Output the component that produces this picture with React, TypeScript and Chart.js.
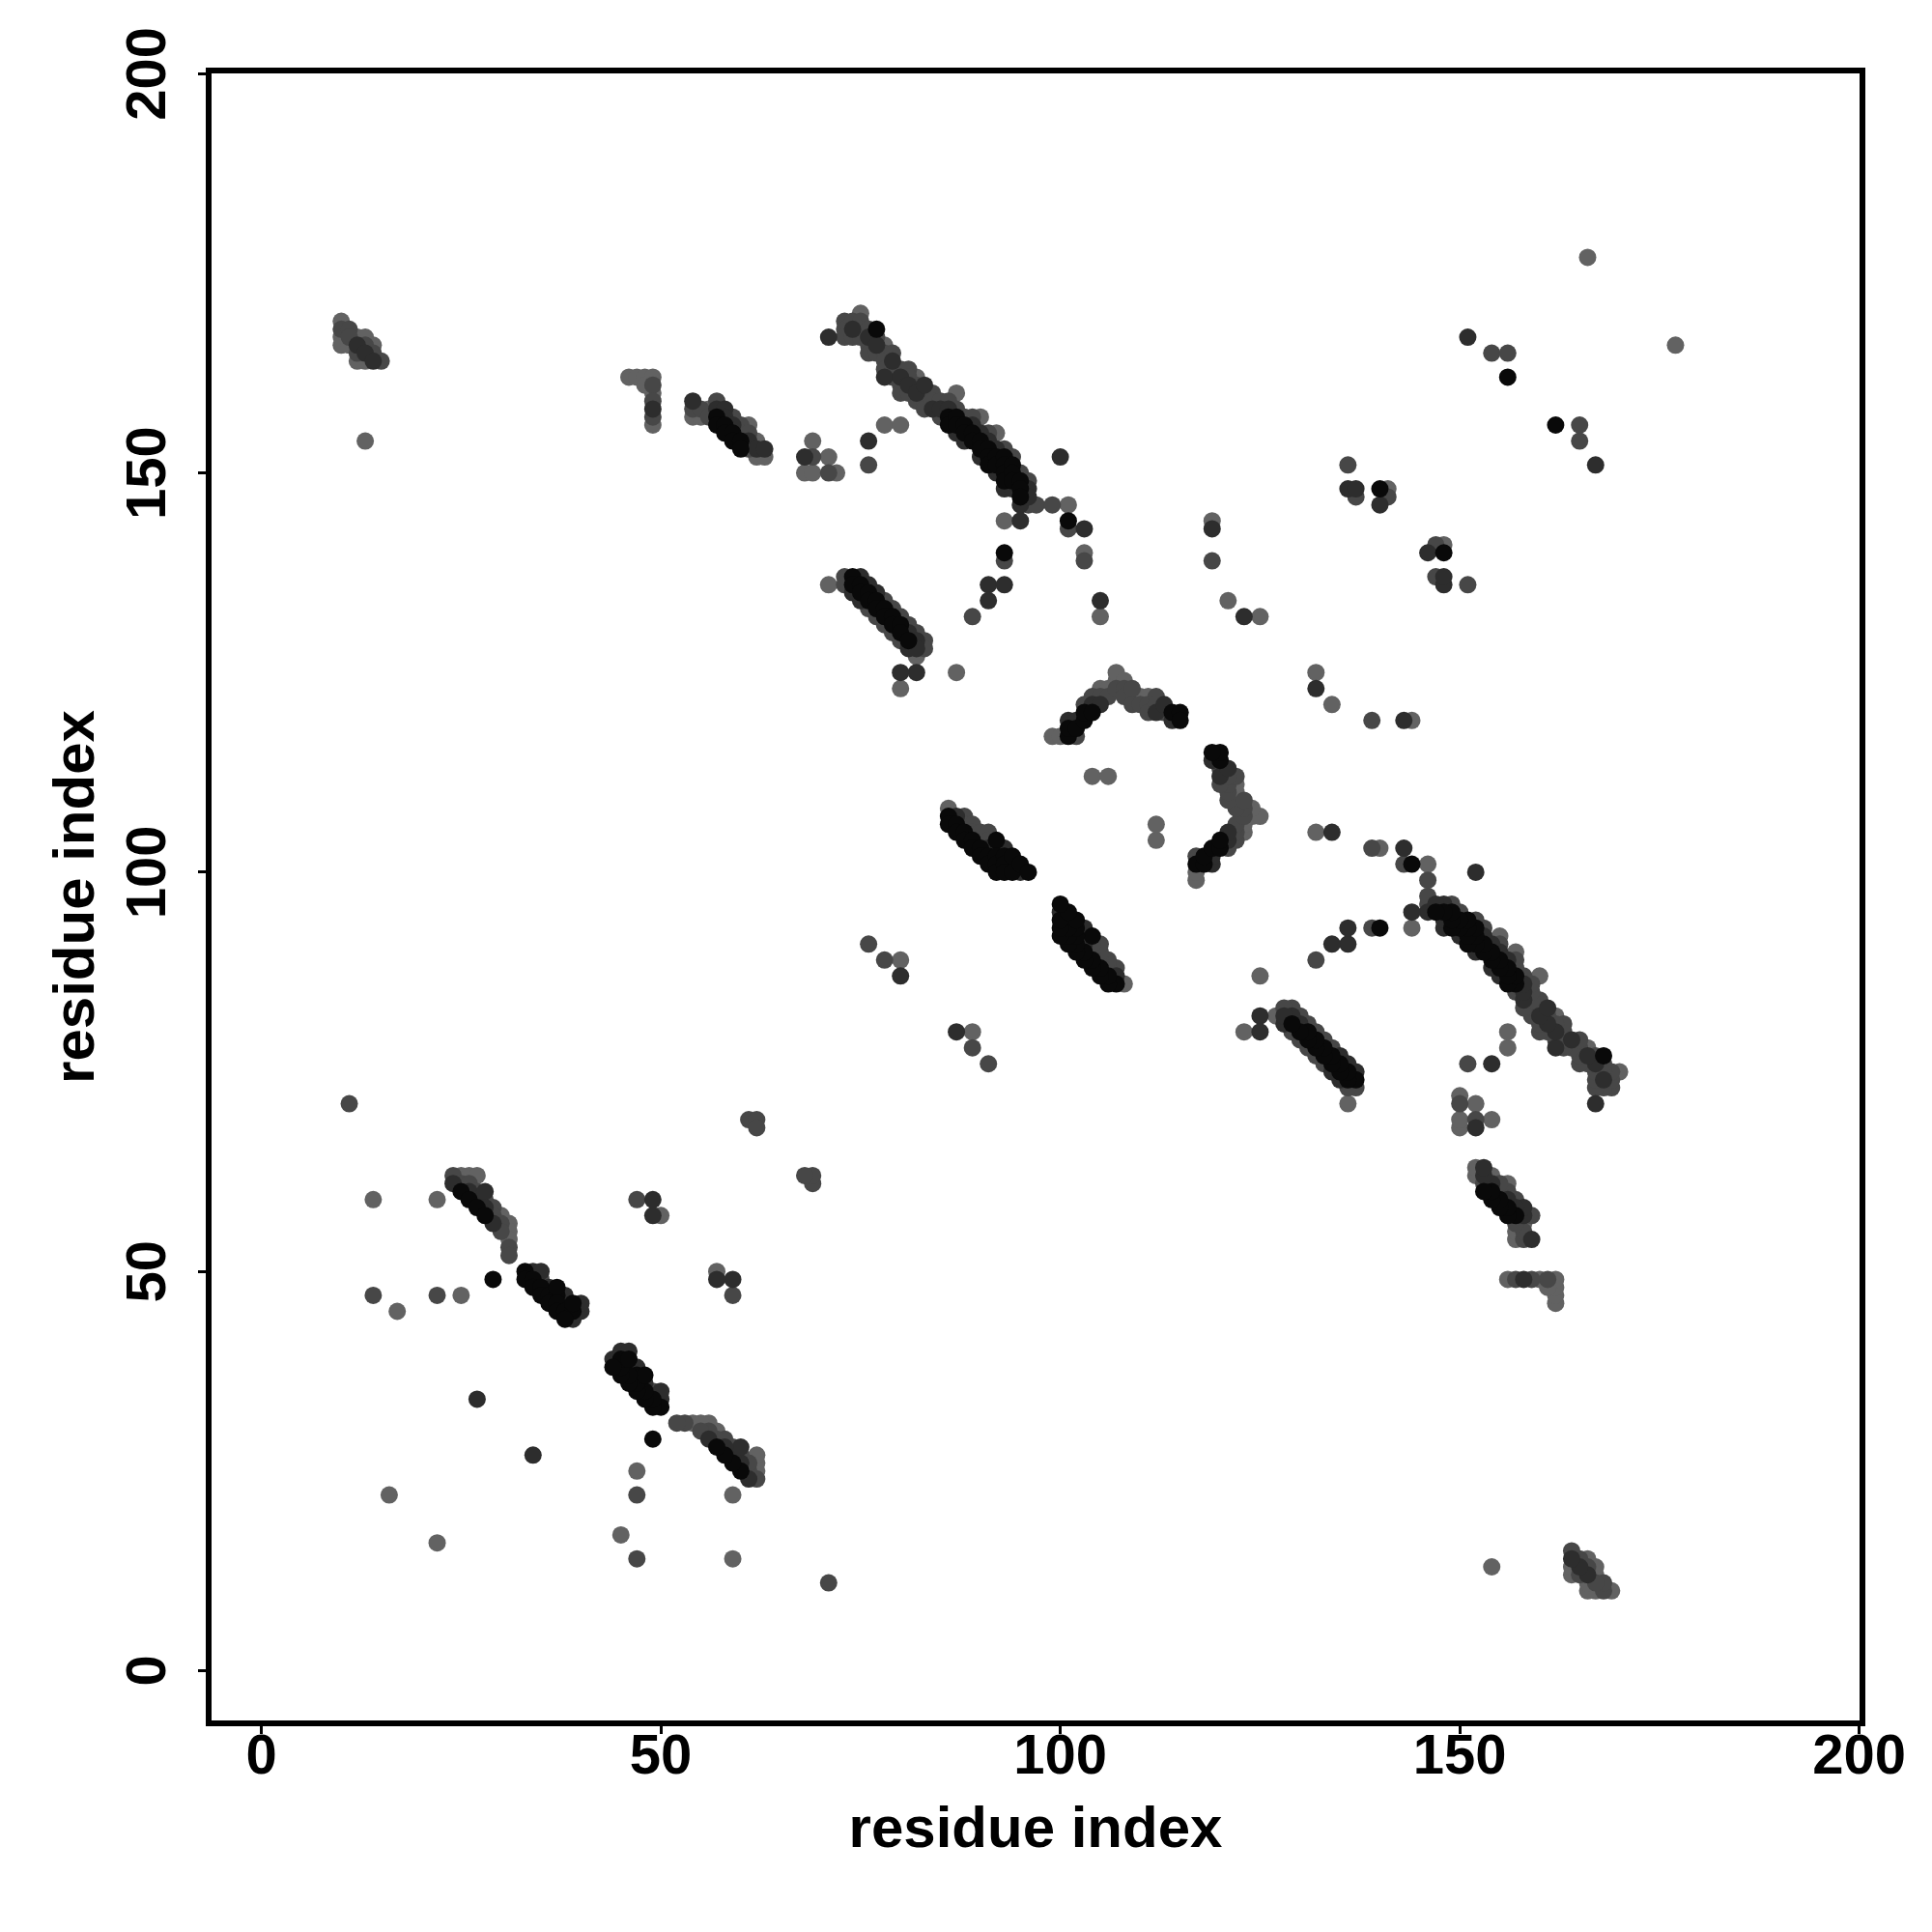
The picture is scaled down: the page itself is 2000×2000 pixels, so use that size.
import React, { useEffect, useRef } from "react";
import { Chart, registerables } from "chart.js";

Chart.register(...registerables);

// [residue i, residue j, contact level (1 = darkest ... 4 = lightest)]
type Contact = [number, number, number];

const axisMin = -6.6;
const axisMax = 200.4;
const tickValues = [0, 50, 100, 150, 200];
const axisTitle = "residue index";
const contactLevels = [1, 2, 3, 4];

const terminalContacts: Contact[] = [
  [10, 169, 4], [10, 168, 3], [10, 167, 4], [10, 166, 4], [11, 168, 3], [11, 167, 3], [11, 166, 4],
  [12, 167, 4], [12, 166, 2], [12, 165, 3], [12, 164, 4], [13, 167, 4], [13, 166, 3], [13, 165, 2],
  [13, 164, 4], [14, 166, 4], [14, 165, 3], [14, 164, 2], [15, 164, 3], [13, 154, 4], [11, 71, 3],
];

const scatteredLow: Contact[] = [
  [14, 59, 4], [22, 59, 4], [14, 47, 3], [22, 47, 3], [25, 47, 4], [17, 45, 4], [16, 22, 4],
  [27, 34, 2], [29, 49, 1], [47, 59, 3], [49, 59, 2], [49, 57, 2], [50, 57, 4],
  [61, 69, 3], [62, 69, 3], [62, 68, 3],
];

const sheetA: Contact[] = [
  [24, 62, 3], [25, 62, 4], [26, 62, 4], [27, 62, 4], [24, 61, 2], [25, 61, 3], [25, 60, 1],
  [26, 61, 3], [26, 60, 2], [26, 59, 1], [27, 60, 3], [27, 59, 2], [27, 58, 1], [28, 60, 2],
  [28, 59, 3], [28, 58, 2], [28, 57, 1], [29, 58, 3], [29, 57, 3], [29, 56, 2], [30, 57, 4],
  [30, 56, 3], [30, 55, 3], [31, 56, 4], [31, 55, 4], [31, 54, 4], [31, 53, 3], [31, 52, 3],
];

const sheetB: Contact[] = [
  [33, 50, 1], [34, 50, 2], [35, 50, 2], [33, 49, 1], [34, 49, 1], [35, 49, 3], [34, 48, 1],
  [35, 48, 1], [36, 48, 2], [35, 47, 1], [36, 47, 1], [37, 47, 1], [37, 48, 1], [36, 46, 1],
  [37, 46, 1], [38, 46, 2], [38, 47, 2], [37, 45, 1], [38, 45, 1], [39, 45, 1], [39, 46, 1],
  [38, 44, 1], [39, 44, 2], [40, 45, 2], [40, 46, 2],
];

const sheetC: Contact[] = [
  [46, 162, 4], [47, 162, 4], [48, 162, 4], [49, 162, 4], [48, 161, 4], [49, 161, 3], [49, 160, 4],
  [49, 159, 3], [49, 158, 2], [49, 157, 3], [49, 156, 4],
  [54, 159, 2], [54, 158, 3], [54, 157, 4], [55, 158, 3], [55, 157, 4], [56, 158, 4], [56, 157, 3],
  [57, 159, 3], [57, 158, 2], [57, 157, 1], [57, 156, 1], [58, 158, 2], [58, 157, 2], [58, 156, 1],
  [58, 155, 1], [59, 157, 3], [59, 156, 2], [59, 155, 1], [59, 154, 1], [60, 156, 3], [60, 155, 3],
  [60, 154, 1], [60, 153, 1], [61, 156, 4], [61, 155, 3], [61, 154, 2], [61, 153, 3], [62, 154, 4],
  [62, 153, 2], [62, 152, 4], [63, 153, 2], [63, 152, 4],
  [69, 154, 4], [68, 152, 2], [69, 152, 3], [71, 152, 4], [68, 150, 4], [69, 150, 4], [71, 150, 3],
  [72, 150, 4], [76, 154, 2], [76, 151, 3], [78, 156, 4], [80, 156, 4],
];

const longBand: Contact[] = [
  [71, 167, 2],
  [73, 169, 3], [73, 168, 3], [73, 167, 3],
  [74, 169, 3], [74, 168, 2], [74, 167, 3],
  [75, 170, 4], [75, 169, 3], [75, 168, 3], [75, 167, 3],
  [76, 168, 3], [76, 167, 2], [76, 166, 3], [76, 165, 3],
  [77, 168, 1], [77, 167, 3], [77, 166, 2], [77, 165, 3],
  [78, 166, 4], [78, 165, 3], [78, 164, 3], [78, 163, 3], [78, 162, 2],
  [79, 165, 3], [79, 164, 2], [79, 163, 3], [79, 162, 3],
  [80, 163, 3], [80, 162, 2], [80, 161, 3], [80, 160, 3],
  [81, 163, 3], [81, 162, 3], [81, 161, 2], [81, 160, 3],
  [82, 162, 4], [82, 161, 3], [82, 160, 2], [82, 159, 3],
  [83, 161, 2], [83, 160, 3], [83, 159, 3], [83, 158, 3],
  [84, 160, 3], [84, 159, 3], [84, 158, 2],
  [85, 159, 3], [85, 158, 2], [85, 157, 3],
  [86, 159, 3], [86, 158, 2], [86, 157, 1], [86, 156, 1],
  [87, 160, 4], [87, 158, 3], [87, 157, 1], [87, 156, 1], [87, 155, 2],
  [88, 157, 3], [88, 156, 1], [88, 155, 1], [88, 154, 2],
  [89, 157, 3], [89, 156, 2], [89, 155, 1], [89, 154, 1],
  [90, 157, 4], [90, 155, 2], [90, 154, 1], [90, 153, 1], [90, 152, 2],
  [91, 155, 3], [91, 154, 2], [91, 153, 1], [91, 152, 1], [91, 151, 1],
  [92, 155, 4], [92, 153, 2], [92, 152, 1], [92, 151, 1], [92, 150, 2],
  [93, 153, 3], [93, 152, 1], [93, 151, 1], [93, 150, 1], [93, 149, 1], [93, 148, 2],
  [94, 152, 3], [94, 151, 1], [94, 150, 1], [94, 149, 1], [94, 148, 2],
  [95, 150, 3], [95, 149, 1], [95, 148, 1], [95, 147, 1], [95, 146, 2],
  [96, 149, 3], [96, 148, 2], [96, 147, 2], [96, 146, 3],
  [97, 146, 3], [99, 146, 3], [101, 146, 4], [100, 152, 2],
];

const scatteredMid: Contact[] = [
  [93, 144, 4], [95, 144, 2], [101, 144, 1], [101, 143, 3], [103, 143, 2], [93, 140, 1],
  [93, 139, 3], [103, 140, 4], [103, 139, 3], [91, 136, 2], [93, 136, 2], [91, 134, 2],
  [89, 132, 3], [105, 134, 2], [105, 132, 4], [76, 91, 3], [78, 89, 3], [80, 89, 4], [80, 87, 2],
  [104, 112, 4], [106, 112, 4],
];

const sheetD: Contact[] = [
  [71, 136, 4],
  [73, 137, 3], [73, 136, 3],
  [74, 137, 1], [74, 136, 1], [74, 135, 2],
  [75, 137, 2], [75, 136, 1], [75, 135, 1], [75, 134, 2],
  [76, 136, 2], [76, 135, 1], [76, 134, 1], [76, 133, 3],
  [77, 135, 2], [77, 134, 1], [77, 133, 1], [77, 132, 3],
  [78, 134, 3], [78, 133, 1], [78, 132, 1], [78, 131, 3],
  [79, 133, 3], [79, 132, 1], [79, 131, 1], [79, 130, 3],
  [80, 132, 3], [80, 131, 1], [80, 130, 1], [80, 129, 3],
  [81, 131, 3], [81, 130, 2], [81, 129, 1], [81, 128, 2],
  [82, 130, 3], [82, 129, 2], [82, 128, 2], [82, 127, 4],
  [83, 129, 3], [83, 128, 3],
  [82, 125, 2], [80, 125, 2], [80, 123, 4], [87, 125, 4],
];

const sheetE: Contact[] = [
  [86, 108, 4], [86, 107, 1], [86, 106, 1], [87, 107, 2], [87, 106, 1], [87, 105, 1],
  [88, 107, 3], [88, 106, 3], [88, 105, 1], [88, 104, 1], [89, 106, 3], [89, 105, 3],
  [89, 104, 1], [89, 103, 1], [90, 105, 3], [90, 104, 3], [90, 103, 1], [90, 102, 1],
  [91, 105, 3], [91, 104, 3], [91, 103, 2], [91, 102, 1], [91, 101, 1], [92, 104, 1],
  [92, 103, 2], [92, 102, 1], [92, 101, 1], [92, 100, 1], [93, 103, 2], [93, 102, 1],
  [93, 101, 1], [93, 100, 1], [94, 102, 1], [94, 101, 3], [94, 100, 1], [95, 101, 1],
  [95, 100, 2], [96, 100, 1],
];

const arcContacts: Contact[] = [
  [99, 117, 4], [100, 117, 4], [101, 117, 1], [102, 117, 3], [101, 118, 1], [102, 118, 1],
  [101, 119, 2], [102, 119, 2], [103, 119, 1], [103, 120, 1], [103, 121, 3], [104, 120, 1],
  [104, 121, 2], [104, 122, 3], [105, 121, 2], [105, 122, 3], [105, 123, 4], [106, 122, 3],
  [106, 123, 4], [107, 123, 3], [107, 124, 4], [107, 125, 4], [108, 123, 3], [108, 124, 4],
  [108, 122, 3], [109, 122, 4], [109, 121, 3], [109, 123, 3], [110, 122, 4], [110, 121, 3],
  [111, 122, 4], [111, 121, 3], [111, 120, 3], [112, 122, 3], [112, 121, 3], [112, 120, 2],
  [113, 121, 2], [113, 120, 3], [114, 120, 1], [114, 119, 2], [115, 120, 1], [115, 119, 1],
];

const scatteredHigh: Contact[] = [
  [119, 144, 4], [119, 143, 2], [119, 139, 3], [121, 134, 4], [123, 132, 2], [125, 132, 4],
  [136, 151, 3], [136, 148, 2], [137, 148, 2], [137, 147, 3], [140, 148, 1], [141, 148, 4],
  [140, 146, 2], [141, 147, 3], [151, 167, 2], [154, 165, 3], [156, 165, 3], [156, 162, 1],
  [166, 177, 4],
];

const allContacts: Contact[] = [
  ...terminalContacts, ...scatteredLow, ...sheetA, ...sheetB, ...sheetC, ...longBand,
  ...scatteredMid, ...sheetD, ...sheetE, ...arcContacts, ...scatteredHigh,
];

const FONT = "'Liberation Sans', Arial, Helvetica, sans-serif";
const LEVEL_COLORS: Record<number, string> = { 1: "#090909", 2: "#2d2d2d", 3: "#474747", 4: "#626262" };

// a contact map is symmetric: each contact (i, j) is drawn at (i, j) and (j, i)
function pointsForLevel(level: number) {
  const pts: { x: number; y: number }[] = [];
  for (const [i, j, l] of allContacts) {
    if (l !== level) continue;
    pts.push({ x: i, y: j });
    pts.push({ x: j, y: i });
  }
  return pts;
}

const framePlugin = {
  id: "frameBox",
  afterDatasetsDraw(chart: any) {
    const { ctx, chartArea } = chart;
    ctx.save();
    ctx.lineWidth = 6;
    ctx.strokeStyle = "#000";
    ctx.strokeRect(chartArea.left, chartArea.top, chartArea.right - chartArea.left, chartArea.bottom - chartArea.top);
    ctx.restore();
  },
};

const yTickLabelPlugin = {
  id: "yTickLabels",
  afterDraw(chart: any) {
    const { ctx, chartArea } = chart;
    const ys = chart.scales.y;
    ctx.save();
    ctx.fillStyle = "#000";
    ctx.font = `bold 58px ${FONT}`;
    ctx.textAlign = "center";
    ctx.textBaseline = "alphabetic";
    for (const v of tickValues) {
      const py = ys.getPixelForValue(v);
      ctx.save();
      ctx.translate(chartArea.left - 45, py);
      ctx.rotate(-Math.PI / 2);
      ctx.fillText(String(v), 0, 0);
      ctx.restore();
    }
    ctx.restore();
  },
};

export default function App() {
  const canvasRef = useRef<HTMLCanvasElement | null>(null);

  useEffect(() => {
    const canvas = canvasRef.current;
    if (!canvas) return;
    const datasets = contactLevels.map((level, idx) => ({
      label: `level ${level}`,
      data: pointsForLevel(level),
      backgroundColor: LEVEL_COLORS[level],
      borderWidth: 0,
      pointRadius: 9,
      pointHoverRadius: 9,
      order: idx,
    }));
    const tickFont = { family: FONT, size: 58, weight: "bold" as const };
    const titleFont = { family: FONT, size: 60, weight: "bold" as const };
    const chart = new Chart(canvas, {
      type: "scatter",
      data: { datasets },
      plugins: [framePlugin, yTickLabelPlugin],
      options: {
        animation: false,
        responsive: false,
        devicePixelRatio: 1,
        events: [],
        layout: { padding: { left: 0, top: 73, right: 72, bottom: 0 } },
        plugins: { legend: { display: false }, tooltip: { enabled: false } },
        scales: {
          x: {
            type: "linear",
            min: axisMin,
            max: axisMax,
            afterBuildTicks: (scale: any) => {
              scale.ticks = tickValues.map((v) => ({ value: v }));
            },
            afterFit: (scale: any) => {
              scale.height = 216;
            },
            ticks: { font: tickFont, color: "#000", padding: -10, maxRotation: 0, autoSkip: false },
            grid: { drawOnChartArea: false, drawTicks: true, tickLength: 11, tickWidth: 3, tickColor: "#000" },
            border: { display: false },
            title: { display: true, text: axisTitle, color: "#000", font: titleFont, padding: { top: 0, bottom: 69 } },
          },
          y: {
            type: "linear",
            min: axisMin,
            max: axisMax,
            afterBuildTicks: (scale: any) => {
              scale.ticks = tickValues.map((v) => ({ value: v }));
            },
            afterFit: (scale: any) => {
              scale.width = 216;
            },
            ticks: { display: false },
            grid: { drawOnChartArea: false, drawTicks: true, tickLength: 11, tickWidth: 3, tickColor: "#000" },
            border: { display: false },
            title: { display: true, text: axisTitle, color: "#000", font: titleFont, padding: { top: 44, bottom: 0 } },
          },
        },
      },
    });
    return () => chart.destroy();
  }, []);

  return (
    <div style={{ position: "absolute", left: 0, top: 0, width: 2000, height: 2000, background: "#fff" }}>
      <canvas ref={canvasRef} width={2000} height={2000} style={{ width: 2000, height: 2000, display: "block" }} />
    </div>
  );
}
